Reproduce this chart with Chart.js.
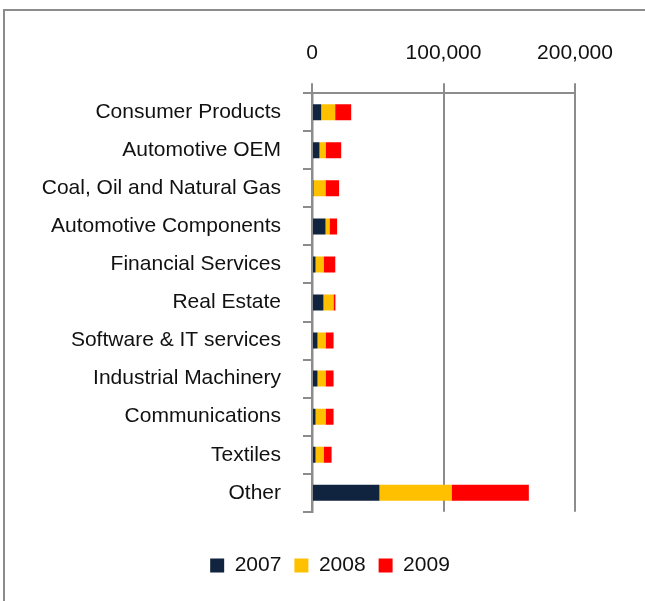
<!DOCTYPE html>
<html lang="en">
<head>
    <meta charset="UTF-8">
    <script src="https://cdn.jsdelivr.net/npm/chart.js"></script>
    <title>Sectors</title>
    <style>
      html, body { margin: 0; padding: 0; background: #fff; overflow: hidden; }
      #frame {
        position: absolute; left: 3px; top: 9px;
        width: 660px; height: 600px;
        border: 2px solid #8c8c8c;
        box-sizing: border-box;
      }
    </style>
</head>
<body>
  <div id="frame">
      <canvas id="sector-chart"></canvas>
  </div>
  <script>
  var sectors = [
    'Consumer Products', 'Automotive OEM', 'Coal, Oil and Natural Gas',
    'Automotive Components', 'Financial Services', 'Real Estate',
    'Software & IT services', 'Industrial Machinery', 'Communications',
    'Textiles', 'Other'
  ];
  var years = ['2007', '2008', '2009'];
  var values2007 = [7000, 5700, 1100, 10300, 2700, 8700, 4200, 4200, 2700, 2700, 51300];
  var values2008 = [10600, 4600, 9100, 3000, 6100, 7600, 6100, 6100, 7600, 6100, 54800];
  var values2009 = [12200, 11900, 10400, 5800, 8900, 1500, 6100, 6100, 6100, 6100, 58800];
  var xTicks = [0, 100000, 200000];

  Chart.defaults.font.family = "'Liberation Sans', Arial, sans-serif";
  Chart.defaults.font.size = 21;
  Chart.defaults.color = '#111';

  // move the legend box right so it sits centred under the whole frame
  const legendShift = {
    id: 'legendShift',
    afterLayout(chart) {
      chart.legend.left += 40;
      chart.legend.right += 40;
    }
  };

  const sectorConfig = {
    type: 'bar',
    data: {
      labels: sectors,
      datasets: [
        { label: years[0], data: values2007, backgroundColor: '#10243f' },
        { label: years[1], data: values2008, backgroundColor: '#ffc000' },
        { label: years[2], data: values2009, backgroundColor: '#ff0000' }
      ]
    },
    options: {
      indexAxis: 'y',
      responsive: false,
      animation: false,
      barPercentage: 0.42,
      categoryPercentage: 1,
      layout: {
        padding: { left: 0, right: 86, top: 13, bottom: 21 }
      },
      scales: {
        x: {
          position: 'top',
          stacked: true,
          min: 0,
          max: 200000,
          afterBuildTicks: function (axis) {
            axis.ticks = xTicks.map(v => ({ value: v }));
          },
          ticks: {
            padding: 17,
            callback: v => v.toLocaleString('en-US')
          },
          grid: { color: '#8c8c8c', lineWidth: 2, tickLength: 10 },
          border: { color: '#8c8c8c', width: 2 }
        },
        y: {
          stacked: true,
          afterFit: function (axis) { axis.width = 307; },
          ticks: { padding: 22, color: '#111', autoSkip: false },
          grid: { drawOnChartArea: false, color: '#8c8c8c', lineWidth: 2, tickLength: 9, offset: true },
          border: { color: '#8c8c8c', width: 2.5 }
        }
      },
      plugins: {
        legend: {
          position: 'bottom',
          labels: { boxWidth: 14, boxHeight: 14, padding: 13 },
          // empty title only used as spacing above the legend row
          title: { display: true, text: '', font: { size: 1 }, padding: { top: 29, bottom: 0 } }
        },
        tooltip: { enabled: false }
      }
    },
    plugins: [legendShift]
  };

  var frame = document.getElementById('frame');
  var canvas = document.getElementById('sector-chart');
  canvas.width = frame.clientWidth;
  canvas.height = frame.clientHeight;
  var sectorChart = new Chart(canvas.getContext('2d'), sectorConfig);
  </script>
</body>
</html>
